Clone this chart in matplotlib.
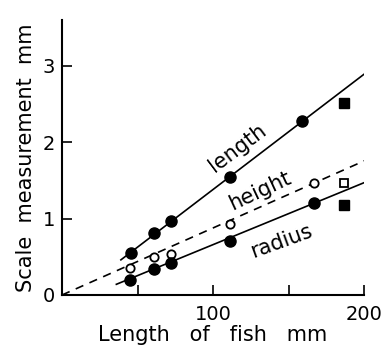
import matplotlib.pyplot as plt

# measured points (fish length mm, scale measurement mm)
fish_len = [46, 61, 72, 111, 159]
scale_length = [0.55, 0.81, 0.97, 1.54, 2.28]

height_len = [45, 61, 72, 111, 167]
scale_height = [0.35, 0.50, 0.54, 0.93, 1.47]

radius_len = [45, 61, 72, 111, 167]
scale_radius = [0.20, 0.34, 0.42, 0.71, 1.20]

# the separate square points at the right
square_len = [186.6]
square_length = [2.51]
square_height = [1.47]
square_radius = [1.18]

# fitted lines (end points)
length_line_x = [39, 200]
length_line_y = [0.46, 2.89]
height_line_x = [0, 204]
height_line_y = [0.0, 1.79]
radius_line_x = [36, 200]
radius_line_y = [0.14, 1.47]

X_TICKS = [100, 200]
Y_TICKS = [0, 1, 2, 3]

fig = plt.figure(figsize=(3.92, 3.53), dpi=100)
ax = fig.add_axes([62 / 392, 58 / 353, 302 / 392, 275 / 353])

ax.plot(length_line_x, length_line_y, color="black", lw=1.2)
ax.plot(height_line_x, height_line_y, color="black", lw=1.2, ls=(0, (5, 4)))
ax.plot(radius_line_x, radius_line_y, color="black", lw=1.2)

ax.plot(fish_len, scale_length, "o", color="black", ms=8)
ax.plot(height_len, scale_height, "o", mfc="white", mec="black", mew=1.3, ms=6)
ax.plot(radius_len, scale_radius, "o", color="black", ms=8)

ax.plot(square_len, square_length, "s", color="black", ms=7)
ax.plot(square_len, square_height, "s", mfc="white", mec="black", mew=1.3, ms=6)
ax.plot(square_len, square_radius, "s", color="black", ms=7)

ax.text(116, 1.93, "length", fontsize=15, rotation=37, ha="center", va="center")
ax.text(131, 1.36, "height", fontsize=15, rotation=25, ha="center", va="center")
ax.text(145, 0.70, "radius", fontsize=15, rotation=20, ha="center", va="center")

ax.set_xlim(0, 200)
ax.set_ylim(0, 3.6)
ax.set_xticks([50, 100, 150, 200])
ax.set_xticklabels(["", "100", "", "200"])
ax.set_yticks(Y_TICKS)
ax.set_yticklabels([str(v) for v in Y_TICKS])

for side in ["top", "right"]:
    ax.spines[side].set_visible(False)
for side in ["left", "bottom"]:
    ax.spines[side].set_linewidth(1.5)

ax.tick_params(axis="both", direction="in", length=7, width=1.2, labelsize=14)
ax.tick_params(axis="x", pad=7)
ax.tick_params(axis="y", pad=5)

ax.set_xlabel("Length   of   fish   mm", fontsize=15, labelpad=1)
ax.set_ylabel("Scale  measurement  mm", fontsize=15, labelpad=5)

plt.savefig("out.png", dpi=100)
